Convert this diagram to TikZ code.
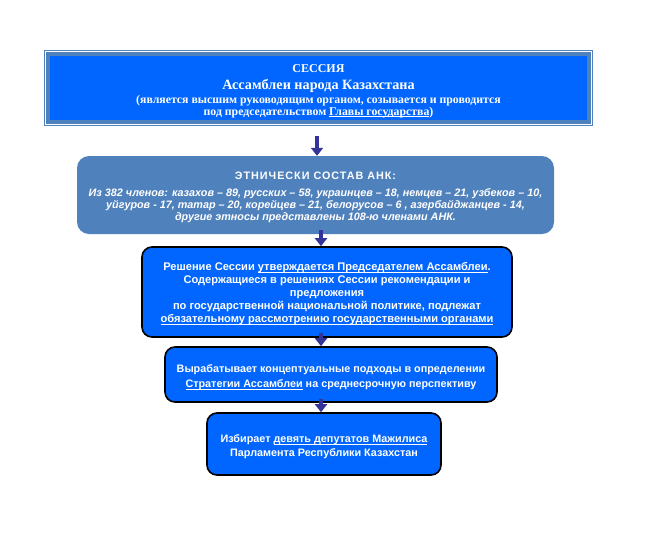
\documentclass[tikz,border=0pt]{standalone}
\usepackage{fontspec}
\setmainfont{Liberation Sans}
\newfontfamily\sessfont{Liberation Serif}
\usetikzlibrary{arrows.meta,positioning}
\definecolor{sessblue}{RGB}{0,102,255}
\definecolor{steelblue}{RGB}{79,129,189}
\definecolor{arrowblue}{RGB}{51,51,153}
\newsavebox\undlbox
\newcommand{\undl}[1]{\sbox\undlbox{#1}\rlap{\vrule height -1.2pt depth 1.9pt width \wd\undlbox}\usebox\undlbox}

\begin{document}
\begin{tikzpicture}
  [
    x=1pt, y=-1pt,
    sessbox/.style={rectangle,draw=steelblue,line width=4pt,fill=sessblue,
      minimum width=541pt,minimum height=68pt,inner sep=0pt},
    sesstext/.style={text=white,align=center,inner sep=0pt,font=\sessfont\bfseries\fontsize{11.8}{12}\selectfont},
    frame/.style={draw=steelblue,line width=1pt},
    ankbox/.style={rectangle,rounded corners=12pt,fill=steelblue,inner sep=0pt},
    anktext/.style={text=white,align=center,inner sep=0pt,font=\bfseries\itshape\fontsize{10.8}{12}\selectfont},
    infobox/.style={rectangle,rounded corners=10pt,draw=black,line width=1.6pt,fill=sessblue,inner sep=0pt},
    infotext/.style={text=white,align=center,inner sep=0pt,font=\bfseries\fontsize{10.8}{13}\selectfont},
    flow/.style={arrowblue,line width=4pt,-{Triangle[width=12pt,length=8pt]}}
  ]
  \useasboundingbox (0,0) rectangle (667,550);
  \coordinate (axis) at (321,0);
  \coordinate (topaxis) at (317,0);

  % session
  \node[sessbox] (session) at (318.5,88) {};
  \draw[frame] ([xshift=-1.5pt,yshift=1.5pt]session.north west) rectangle ([xshift=1.5pt,yshift=-1.5pt]session.south east);
  \node[sesstext] (session text) at ([yshift=-3pt]session.center) {%
    {\fontsize{12}{16}\selectfont СЕССИЯ}\\[5pt]
    {\fontsize{14.2}{16}\selectfont Ассамблеи народа Казахстана}\\[2pt]
    (является высшим руководящим органом, созывается и проводится\\
    под председательством \undl{Главы государства})};

  % ethnic composition
  \node[ankbox,minimum width=477pt,minimum height=78pt] (ank) at (315.5,195) {};
  \node[anktext] (ank text) at ([yshift=-2.5pt]ank.center) {%
    {\upshape\addfontfeature{LetterSpace=9}ЭТНИЧЕСКИ СОСТАВ АНК:}\\[5pt]
    Из 382 членов: казахов – 89, русских – 58, украинцев – 18, немцев – 21, узбеков – 10,\\
    уйгуров - 17, татар – 20, корейцев – 21, белорусов – 6 , азербайджанцев - 14,\\
    другие этносы представлены 108-ю членами АНК.};

  % decisions
  \node[infobox,minimum width=370pt,minimum height=90pt] (decision) at (327,292) {};
  \node[infotext,font=\bfseries\fontsize{11.1}{13}\selectfont] (decision text) at ([yshift=-2pt]decision.center) {%
    Решение Сессии \undl{утверждается Председателем Ассамблеи}.\\
    Содержащиеся в решениях Сессии рекомендации и\\
    предложения\\
    по государственной национальной политике, подлежат\\
    \undl{обязательному рассмотрению государственными органами}};

  \node[infobox,minimum width=332pt,minimum height=55pt] (strategy) at (331,374.5) {};
  \node[infotext] (strategy text) at ([yshift=-3pt]strategy.center) {%
    Вырабатывает концептуальные подходы в определении\\[2pt]
    \undl{Стратегии Ассамблеи} на среднесрочную перспективу};

  \node[infobox,minimum width=234pt,minimum height=62pt] (deputies) at (324,444) {};
  \node[infotext] (deputies text) at ([yshift=-3pt]deputies.center) {%
    Избирает \undl{девять депутатов Мажилиса}\\[1pt]
    Парламента Республики Казахстан};

  % arrows
  \draw[flow,shorten <=12pt] (session.south -| topaxis) -- (ank.north -| topaxis);
  \draw[flow,shorten <=-4pt] (ank.south -| axis) -- (decision.north -| axis);
  \draw[flow,shorten <=-5pt] (decision.south -| axis) -- (strategy.north -| axis);
  \draw[flow,shorten <=-4pt] (strategy.south -| axis) -- (deputies.north -| axis);
\end{tikzpicture}
\end{document}
